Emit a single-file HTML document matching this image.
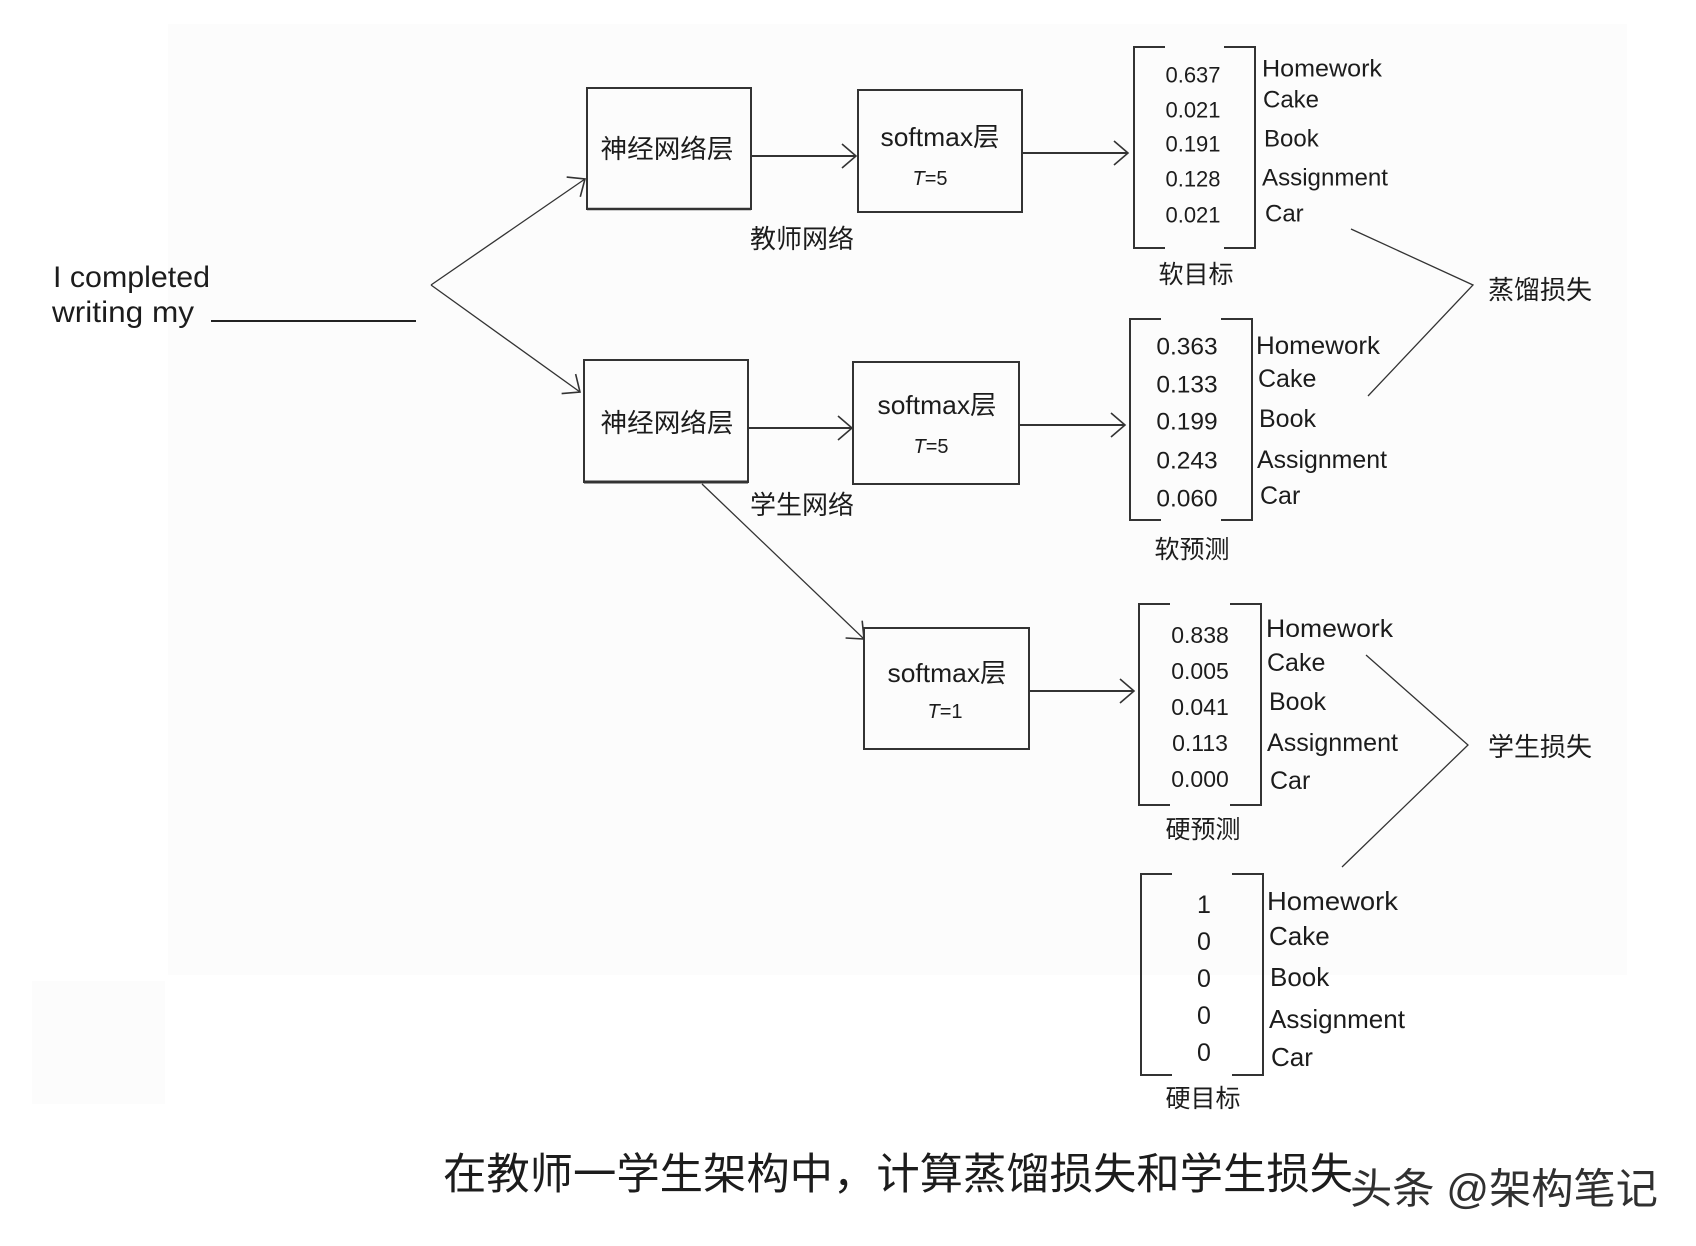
<!DOCTYPE html>
<html><head><meta charset="utf-8">
<style>
html,body{margin:0;padding:0;background:#fff;}
svg{display:block;}
text{font-family:"Liberation Sans","Noto Sans CJK SC",sans-serif;fill:#1c1c1c;}
</style></head>
<body>
<svg width="1696" height="1246" viewBox="0 0 1696 1246" xmlns="http://www.w3.org/2000/svg">
<defs>
<marker id="ah" markerUnits="userSpaceOnUse" markerWidth="40" markerHeight="40" refX="0" refY="0" viewBox="-20 -20 40 40" orient="auto">
<path d="M-14,-12 L0,0 L-14,12" fill="none" stroke="#333" stroke-width="1.6"/>
</marker>
</defs>
<rect x="0" y="0" width="1696" height="1246" fill="#fff"/>
<rect x="168" y="24" width="1459" height="951" fill="#fcfcfc"/>
<rect x="32" y="981" width="133" height="123" fill="#fcfcfc"/>

<!-- input sentence -->
<text x="53" y="287" font-size="30" textLength="157" lengthAdjust="spacingAndGlyphs">I completed</text>
<text x="52" y="322" font-size="30" textLength="142" lengthAdjust="spacingAndGlyphs">writing my</text>
<line x1="211" y1="321" x2="416" y2="321" stroke="#222" stroke-width="2"/>

<!-- branch lines -->
<g stroke="#333" stroke-width="1.3" fill="none">
<line x1="431" y1="285" x2="585" y2="179" marker-end="url(#ah)"/>
<line x1="431" y1="285" x2="580" y2="392" marker-end="url(#ah)"/>
<line x1="702" y1="484" x2="864" y2="639" marker-end="url(#ah)"/>
</g>

<!-- boxes -->
<g fill="none" stroke="#333" stroke-width="2">
<rect x="587" y="88" width="164" height="121"/>
<rect x="584" y="360" width="164" height="122"/>
<rect x="858" y="90" width="164" height="122"/>
<rect x="853" y="362" width="166" height="122"/>
<rect x="864" y="628" width="165" height="121"/>
</g>
<line x1="584" y1="482" x2="748" y2="482" stroke="#333" stroke-width="3"/>
<line x1="587" y1="209" x2="751" y2="209" stroke="#333" stroke-width="2.6"/>

<text x="667" y="149" font-size="26" text-anchor="middle" dominant-baseline="central" textLength="133" lengthAdjust="spacingAndGlyphs">神经网络层</text>
<text x="667" y="423" font-size="26" text-anchor="middle" dominant-baseline="central" textLength="133" lengthAdjust="spacingAndGlyphs">神经网络层</text>

<text x="940" y="137" font-size="26" text-anchor="middle" dominant-baseline="central" textLength="119" lengthAdjust="spacingAndGlyphs">softmax层</text>
<text x="930" y="179" font-size="20" text-anchor="middle" dominant-baseline="central"><tspan font-style="italic">T</tspan>=5</text>
<text x="937" y="405" font-size="26" text-anchor="middle" dominant-baseline="central" textLength="119" lengthAdjust="spacingAndGlyphs">softmax层</text>
<text x="931" y="447" font-size="20" text-anchor="middle" dominant-baseline="central"><tspan font-style="italic">T</tspan>=5</text>
<text x="947" y="673" font-size="26" text-anchor="middle" dominant-baseline="central" textLength="119" lengthAdjust="spacingAndGlyphs">softmax层</text>
<text x="945" y="712" font-size="20" text-anchor="middle" dominant-baseline="central"><tspan font-style="italic">T</tspan>=1</text>

<text x="802" y="239" font-size="26" text-anchor="middle" dominant-baseline="central">教师网络</text>
<text x="802" y="505" font-size="26" text-anchor="middle" dominant-baseline="central">学生网络</text>

<!-- horizontal arrows -->
<g stroke="#333" stroke-width="2" fill="none">
<line x1="751" y1="156" x2="856" y2="156" marker-end="url(#ah)"/>
<line x1="748" y1="428" x2="852" y2="428" marker-end="url(#ah)"/>
<line x1="1022" y1="153" x2="1128" y2="153" marker-end="url(#ah)"/>
<line x1="1019" y1="425" x2="1125" y2="425" marker-end="url(#ah)"/>
<line x1="1029" y1="691" x2="1134" y2="691" marker-end="url(#ah)"/>
</g>

<!-- brackets -->
<g fill="none" stroke="#333" stroke-width="2">
<path d="M1165,47 H1134 V248 H1165"/><path d="M1224,47 H1255 V248 H1224"/>
<path d="M1161,319 H1130 V520 H1161"/><path d="M1221,319 H1252 V520 H1221"/>
<path d="M1170,604 H1139 V805 H1170"/><path d="M1230,604 H1261 V805 H1230"/>
<path d="M1172,874 H1141 V1075 H1172"/><path d="M1232,874 H1263 V1075 H1232"/>
</g>

<!-- bracket 1 values -->
<g font-size="22" text-anchor="middle" dominant-baseline="central">
<text x="1193" y="75">0.637</text>
<text x="1193" y="110">0.021</text>
<text x="1193" y="144">0.191</text>
<text x="1193" y="179">0.128</text>
<text x="1193" y="215">0.021</text>
</g>
<g font-size="24" dominant-baseline="central">
<text x="1262" y="69" textLength="120" lengthAdjust="spacingAndGlyphs">Homework</text>
<text x="1263" y="100">Cake</text>
<text x="1264" y="139">Book</text>
<text x="1262" y="178" textLength="126" lengthAdjust="spacingAndGlyphs">Assignment</text>
<text x="1265" y="214">Car</text>
</g>
<text x="1196" y="275" font-size="25" text-anchor="middle" dominant-baseline="central">软目标</text>

<!-- bracket 2 -->
<g font-size="24.5" text-anchor="middle" dominant-baseline="central">
<text x="1187" y="347">0.363</text>
<text x="1187" y="385">0.133</text>
<text x="1187" y="422">0.199</text>
<text x="1187" y="461">0.243</text>
<text x="1187" y="499">0.060</text>
</g>
<g font-size="25" dominant-baseline="central">
<text x="1256" y="346" textLength="124" lengthAdjust="spacingAndGlyphs">Homework</text>
<text x="1258" y="379">Cake</text>
<text x="1259" y="419">Book</text>
<text x="1257" y="460" textLength="130" lengthAdjust="spacingAndGlyphs">Assignment</text>
<text x="1260" y="496">Car</text>
</g>
<text x="1192" y="550" font-size="25" text-anchor="middle" dominant-baseline="central">软预测</text>

<!-- bracket 3 -->
<g font-size="23" text-anchor="middle" dominant-baseline="central">
<text x="1200" y="635">0.838</text>
<text x="1200" y="671">0.005</text>
<text x="1200" y="707">0.041</text>
<text x="1200" y="743">0.113</text>
<text x="1200" y="779">0.000</text>
</g>
<g font-size="25" dominant-baseline="central">
<text x="1266" y="629" textLength="127" lengthAdjust="spacingAndGlyphs">Homework</text>
<text x="1267" y="663">Cake</text>
<text x="1269" y="702">Book</text>
<text x="1267" y="743" textLength="131" lengthAdjust="spacingAndGlyphs">Assignment</text>
<text x="1270" y="781">Car</text>
</g>
<text x="1203" y="830" font-size="25" text-anchor="middle" dominant-baseline="central">硬预测</text>

<!-- bracket 4 -->
<g font-size="25" text-anchor="middle" dominant-baseline="central">
<text x="1204" y="905">1</text>
<text x="1204" y="942">0</text>
<text x="1204" y="979">0</text>
<text x="1204" y="1016">0</text>
<text x="1204" y="1053">0</text>
</g>
<g font-size="26" dominant-baseline="central">
<text x="1267" y="901" textLength="131" lengthAdjust="spacingAndGlyphs">Homework</text>
<text x="1269" y="936">Cake</text>
<text x="1270" y="977">Book</text>
<text x="1269" y="1019" textLength="136" lengthAdjust="spacingAndGlyphs">Assignment</text>
<text x="1271" y="1057">Car</text>
</g>
<text x="1203" y="1099" font-size="25" text-anchor="middle" dominant-baseline="central">硬目标</text>

<!-- loss connectors -->
<g fill="none" stroke="#333" stroke-width="1.3">
<polyline points="1351,229 1473,285 1368,396"/>
<polyline points="1366,655 1468,745 1342,867"/>
</g>
<text x="1488" y="290" font-size="26" dominant-baseline="central">蒸馏损失</text>
<text x="1488" y="747" font-size="26" dominant-baseline="central">学生损失</text>

<!-- caption -->
<text x="443" y="1175" font-size="43" dominant-baseline="central" textLength="910" lengthAdjust="spacingAndGlyphs">在教师一学生架构中，计算蒸馏损失和学生损失</text>

<!-- watermark -->
<text x="1350" y="1189" font-size="42" dominant-baseline="central" style="fill:#303030" textLength="308" lengthAdjust="spacingAndGlyphs">头条 @架构笔记</text>
</svg>
</body></html>
